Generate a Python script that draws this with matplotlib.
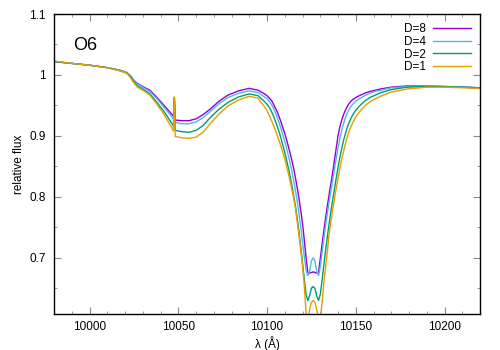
import matplotlib
matplotlib.use("Agg")
import matplotlib.pyplot as plt
from matplotlib.ticker import MultipleLocator

plt.rcParams['font.family'] = ['Liberation Sans', 'DejaVu Sans']

# wavelength grid (Angstrom)
wave = [9980, 9990, 10000, 10010, 10017, 10021, 10023, 10025, 10027, 10030,
        10034, 10038, 10042, 10046.5, 10047.3, 10047.8, 10048.3, 10052, 10056,
        10060, 10064, 10068, 10073, 10078, 10084, 10090, 10095, 10098,
        10100, 10101, 10102, 10103, 10104, 10105, 10106, 10107, 10108, 10109,
        10110, 10111, 10112, 10113, 10114, 10115, 10116, 10117, 10118, 10119,
        10120, 10121, 10122, 10123, 10124, 10125, 10126, 10127, 10128, 10129,
        10130, 10131, 10132, 10133, 10134, 10135, 10136, 10137, 10138, 10139,
        10140, 10141, 10142, 10143, 10144, 10145, 10146, 10147, 10148,
        10150, 10152, 10155, 10158, 10161, 10164, 10170, 10179, 10190, 10200,
        10210, 10220]

flux_d8 = [1.022, 1.019, 1.016, 1.012, 1.008, 1.004, 0.999, 0.991, 0.986, 0.981,
           0.975, 0.963, 0.950, 0.935, 0.932, 0.963, 0.926, 0.925, 0.925,
           0.928, 0.935, 0.944, 0.957, 0.967, 0.974, 0.978, 0.975, 0.970,
           0.966, 0.963, 0.960, 0.956, 0.950, 0.944, 0.938, 0.930, 0.922, 0.913,
           0.904, 0.894, 0.883, 0.872, 0.860, 0.847, 0.832, 0.815, 0.798, 0.778,
           0.757, 0.730, 0.700, 0.676, 0.675, 0.676, 0.677, 0.676, 0.675, 0.676,
           0.698, 0.722, 0.744, 0.765, 0.785, 0.804, 0.822, 0.840, 0.860, 0.880,
           0.900, 0.914, 0.925, 0.934, 0.941, 0.947, 0.952, 0.956, 0.959,
           0.963, 0.966, 0.970, 0.973, 0.975, 0.977, 0.980, 0.982, 0.982, 0.981,
           0.980, 0.979]

flux_d4 = [1.022, 1.019, 1.016, 1.012, 1.008, 1.004, 0.998, 0.990, 0.985, 0.980,
           0.973, 0.961, 0.947, 0.931, 0.928, 0.963, 0.922, 0.920, 0.920,
           0.923, 0.930, 0.940, 0.953, 0.963, 0.970, 0.974, 0.971, 0.965,
           0.961, 0.958, 0.954, 0.949, 0.943, 0.936, 0.928, 0.920, 0.911, 0.901,
           0.891, 0.880, 0.868, 0.856, 0.842, 0.827, 0.811, 0.793, 0.773, 0.751,
           0.727, 0.702, 0.680, 0.671, 0.678, 0.695, 0.700, 0.695, 0.678, 0.671,
           0.685, 0.708, 0.731, 0.753, 0.773, 0.792, 0.810, 0.827, 0.845, 0.863,
           0.880, 0.895, 0.908, 0.919, 0.928, 0.936, 0.942, 0.947, 0.951,
           0.957, 0.961, 0.966, 0.970, 0.973, 0.975, 0.979, 0.981, 0.982, 0.981,
           0.980, 0.979]

flux_d2 = [1.022, 1.019, 1.016, 1.012, 1.007, 1.003, 0.997, 0.988, 0.982, 0.977,
           0.969, 0.955, 0.940, 0.920, 0.916, 0.963, 0.909, 0.907, 0.906,
           0.909, 0.917, 0.930, 0.944, 0.955, 0.964, 0.969, 0.966, 0.958,
           0.952, 0.948, 0.943, 0.937, 0.930, 0.922, 0.914, 0.905, 0.895, 0.884,
           0.873, 0.861, 0.848, 0.834, 0.819, 0.803, 0.785, 0.765, 0.743, 0.719,
           0.692, 0.665, 0.640, 0.630, 0.638, 0.650, 0.653, 0.650, 0.638, 0.630,
           0.640, 0.662, 0.688, 0.712, 0.735, 0.756, 0.776, 0.795, 0.813, 0.831,
           0.848, 0.864, 0.878, 0.891, 0.902, 0.912, 0.920, 0.927, 0.933,
           0.942, 0.949, 0.957, 0.963, 0.967, 0.971, 0.976, 0.980, 0.981, 0.981,
           0.980, 0.979]

flux_d1 = [1.023, 1.019, 1.016, 1.012, 1.007, 1.003, 0.996, 0.987, 0.980, 0.975,
           0.967, 0.952, 0.935, 0.913, 0.908, 0.964, 0.899, 0.897, 0.896,
           0.898, 0.906, 0.920, 0.936, 0.949, 0.959, 0.965, 0.962, 0.950,
           0.942, 0.935, 0.929, 0.922, 0.915, 0.907, 0.899, 0.891, 0.882, 0.872,
           0.862, 0.851, 0.839, 0.826, 0.812, 0.799, 0.782, 0.760, 0.737, 0.713,
           0.688, 0.655, 0.610, 0.598, 0.615, 0.627, 0.630, 0.627, 0.615, 0.600,
           0.598, 0.625, 0.658, 0.685, 0.710, 0.740, 0.760, 0.779, 0.797, 0.814,
           0.830, 0.846, 0.860, 0.873, 0.885, 0.896, 0.905, 0.913, 0.920,
           0.931, 0.939, 0.949, 0.956, 0.961, 0.965, 0.972, 0.977, 0.980, 0.980,
           0.979, 0.978]

series = [("D=8", flux_d8, "#9400d3"),
          ("D=4", flux_d4, "#56b4e9"),
          ("D=2", flux_d2, "#009e73"),
          ("D=1", flux_d1, "#e69f00")]

fig = plt.figure(figsize=(5, 3.5), dpi=100)
ax = fig.add_axes([0.108, 0.103, 0.852, 0.857])

for label, flux, color in series:
    ax.plot(wave, flux, color=color, lw=1.0, label=label)

ax.set_xlim(9980, 10220)
ax.set_ylim(0.608, 1.1)
ax.xaxis.set_major_locator(MultipleLocator(50))
ax.xaxis.set_minor_locator(MultipleLocator(10))
ax.yaxis.set_major_locator(MultipleLocator(0.1))
ax.yaxis.set_minor_locator(MultipleLocator(0.05))
ax.yaxis.set_major_formatter(plt.FuncFormatter(lambda v, p: f"{v:g}"))
ax.tick_params(which='both', direction='in', top=True, right=True,
               labelsize=8.5, color='#888888')
ax.tick_params(axis='x', pad=5)
ax.tick_params(axis='y', pad=6)
ax.tick_params(which='major', length=5)
ax.tick_params(which='minor', length=2.5)
for s in ax.spines.values():
    s.set_linewidth(1.0)

ax.set_xlabel("λ (Å)", fontsize=8.5, labelpad=2)
ax.set_ylabel("relative flux", fontsize=8.5)
ax.yaxis.set_label_coords(-0.068, 0.5)
ax.text(9990.5, 1.049, "O6", fontsize=13, va='center', ha='left')

ax.legend(loc='upper right', frameon=False, markerfirst=False, fontsize=8.5,
          handlelength=3.2, handletextpad=0.6, labelspacing=0.05,
          borderaxespad=0.4)

fig.savefig("out.png", dpi=100)
